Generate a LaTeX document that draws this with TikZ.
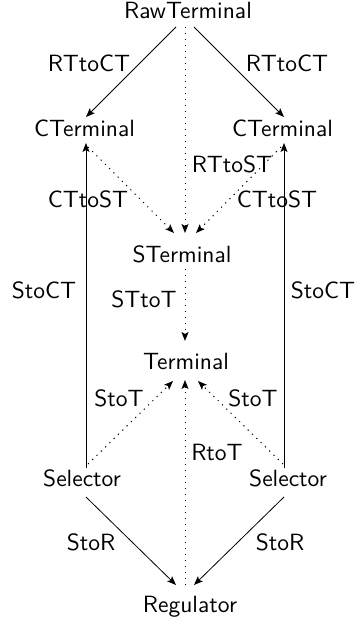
\documentclass[tikz,border=0pt]{standalone}
\usepackage{fontspec}
\setsansfont{lmsans10-regular.otf}
\usetikzlibrary{arrows.meta}
\begin{document}
\begin{tikzpicture}[x=1pt,y=-1pt,
  lab/.style={font=\sffamily\fontsize{23.5}{28}\selectfont, anchor=base, inner sep=0pt},
  obj/.style={lab},
  arr/.style={-{Stealth[length=9pt,width=7pt,inset=2pt]}, line width=0.8pt},
  dotarr/.style={arr, line width=1pt, dash pattern=on 1.2pt off 4.8pt}]
\useasboundingbox (0,0) rectangle (357,623);
% objects
\node[obj] (raw)  at (188,19)  {RawTerminal};
\node[obj] (ctl)  at (84.5,136) {CTerminal};
\node[obj] (ctr)  at (282.5,136) {CTerminal};
\node[obj] (sterm) at (182,262) {STerminal};
\node[obj] (term) at (186,369) {Terminal};
\node[obj] (sell) at (82,486) {Selector};
\node[obj] (selr) at (288,486) {Selector};
\node[obj] (reg)  at (190,612) {Regulator};
% labels
\node[lab] (l1)  at (89,72)   {RTtoCT};
\node[lab] (l2)  at (287,72)  {RTtoCT};
\node[lab] (l3)  at (232,172) {RTtoST};
\node[lab] (l4)  at (88,207)  {CTtoST};
\node[lab] (l5)  at (277,207) {CTtoST};
\node[lab] (l6)  at (44,298)  {StoCT};
\node[lab] (l7)  at (323,298) {StoCT};
\node[lab] (l8)  at (144,307) {STtoT};
\node[lab] (l9)  at (119,406) {StoT};
\node[lab] (l10) at (253,406) {StoT};
\node[lab] (l11) at (217,460) {RtoT};
\node[lab] (l12) at (91,550)  {StoR};
\node[lab] (l13) at (280,550) {StoR};
% connectors
\draw[arr] ([shift={(-12,8)}]raw.base) -- ([shift={(1.5,-19)}]ctl.base);
\draw[arr] ([shift={(6,8)}]raw.base) -- ([shift={(1.5,-19)}]ctr.base);
\draw[dotarr] ([shift={(-3,8)}]raw.base) -- ([shift={(3,-29)}]sterm.base);
\draw[dotarr] ([shift={(3.5,11)}]ctl.base) -- ([shift={(-8,-29)}]sterm.base);
\draw[dotarr] ([shift={(-1.5,11)}]ctr.base) -- ([shift={(14,-29)}]sterm.base);
\draw[dotarr] ([shift={(3,7)}]sterm.base) -- ([shift={(-1,-28)}]term.base);
\draw[arr] ([shift={(4,-18)}]sell.base) -- ([shift={(1.5,7)}]ctl.base);
\draw[arr] ([shift={(-4,-18)}]selr.base) -- ([shift={(1.5,7)}]ctr.base);
\draw[dotarr] ([shift={(6,-22)}]sell.base) -- ([shift={(-13,12)}]term.base);
\draw[dotarr] ([shift={(-5,-22)}]selr.base) -- ([shift={(12,12)}]term.base);
\draw[dotarr] ([shift={(-5,-27)}]reg.base) -- ([shift={(-1,11)}]term.base);
\draw[arr] ([shift={(4,11)}]sell.base) -- ([shift={(-14,-27)}]reg.base);
\draw[arr] ([shift={(-4,11)}]selr.base) -- ([shift={(4,-27)}]reg.base);
\end{tikzpicture}
\end{document}
